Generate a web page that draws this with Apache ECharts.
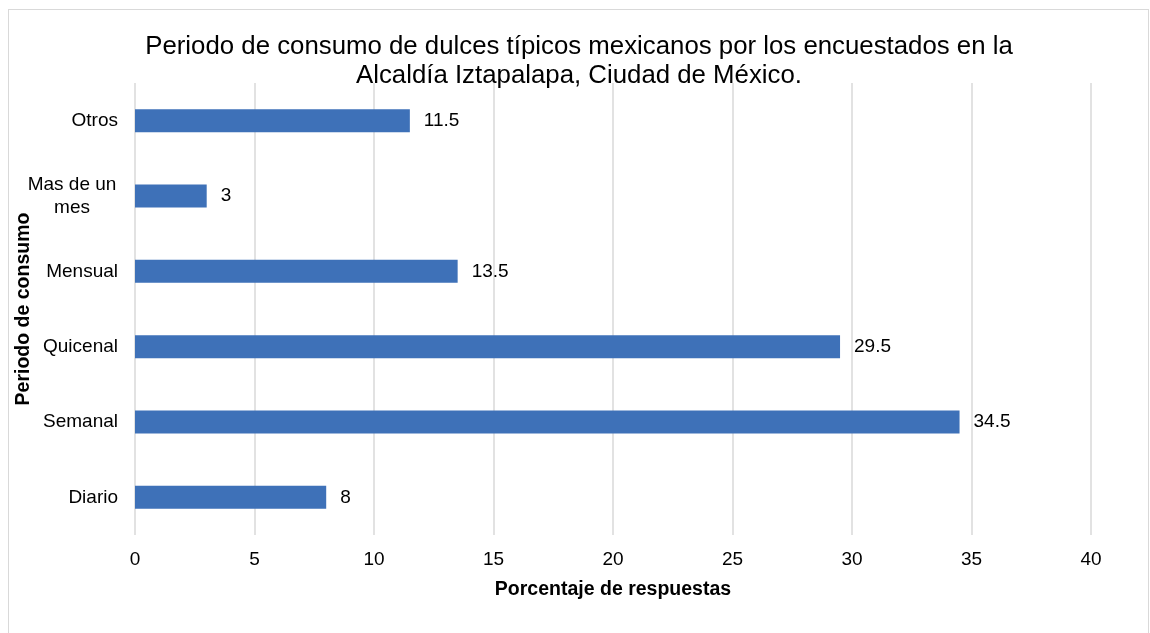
<!DOCTYPE html>
<html>
<head>
<meta charset="utf-8">
<script src="https://cdn.jsdelivr.net/npm/echarts@6/dist/echarts.min.js"></script>
<style>
html,body{margin:0;padding:0;background:#fff;}
#frame{position:absolute;left:8px;top:9px;width:1141px;height:640px;border:1px solid #d9d9d9;box-sizing:border-box;}
#chart{position:absolute;left:0;top:0;width:1150px;height:633px;}
</style>
</head>
<body>
<div id="frame"></div>
<div id="chart"></div>
<script>
const categories = ['Diario', 'Semanal', 'Quicenal', 'Mensual', 'Mas de un\nmes', 'Otros'];
const values = [8, 34.5, 29.5, 13.5, 3, 11.5];
const titleText = 'Periodo de consumo de dulces típicos mexicanos por los encuestados en la\nAlcaldía Iztapalapa, Ciudad de México.';
const xAxisName = 'Porcentaje de respuestas';
const yAxisName = 'Periodo de consumo';

const chart = echarts.init(document.getElementById('chart'));
const font = 'Liberation Sans, Arial, sans-serif';
chart.setOption({
  animation: false,
  title: {
    text: titleText,
    left: 574, top: 27, textAlign: 'center',
    textStyle: {fontFamily: font, fontSize: 25.8, fontWeight: 'normal', color: '#000', lineHeight: 29}
  },
  grid: {left: 135, right: 59, top: 83, bottom: 98, containLabel: false, outerBoundsMode: 'none'},
  xAxis: {
    type: 'value', min: 0, max: 40, interval: 5,
    name: xAxisName, nameLocation: 'middle', nameGap: 45, nameMoveOverlap: false,
    nameTextStyle: {fontFamily: font, fontSize: 19.5, fontWeight: 'bold', color: '#000'},
    axisLine: {show: false}, axisTick: {show: false},
    axisLabel: {fontFamily: font, fontSize: 19, color: '#000', margin: 15},
    splitLine: {show: true, lineStyle: {color: '#d9d9d9', width: 1.5}}
  },
  yAxis: {
    type: 'category', data: categories,
    name: yAxisName, nameLocation: 'middle', nameGap: 101, nameRotate: 90, nameMoveOverlap: false,
    nameTextStyle: {fontFamily: font, fontSize: 19.5, fontWeight: 'bold', color: '#000'},
    axisLine: {show: false}, axisTick: {show: false},
    axisLabel: {
      fontFamily: font, fontSize: 19, color: '#000', margin: 17, lineHeight: 23,
      formatter: v => v.indexOf('\n') >= 0 ? '{m|' + v + '}' : v,
      rich: {m: {fontFamily: font, fontSize: 19, color: '#000', lineHeight: 23, width: 92, align: 'center'}}
    },
    splitLine: {show: false}
  },
  series: [{
    type: 'bar', data: values, barWidth: 23,
    itemStyle: {color: '#3e71b8'},
    label: {show: true, position: 'right', distance: 14, fontFamily: font, fontSize: 19, color: '#000'}
  }]
});
</script>
</body>
</html>
